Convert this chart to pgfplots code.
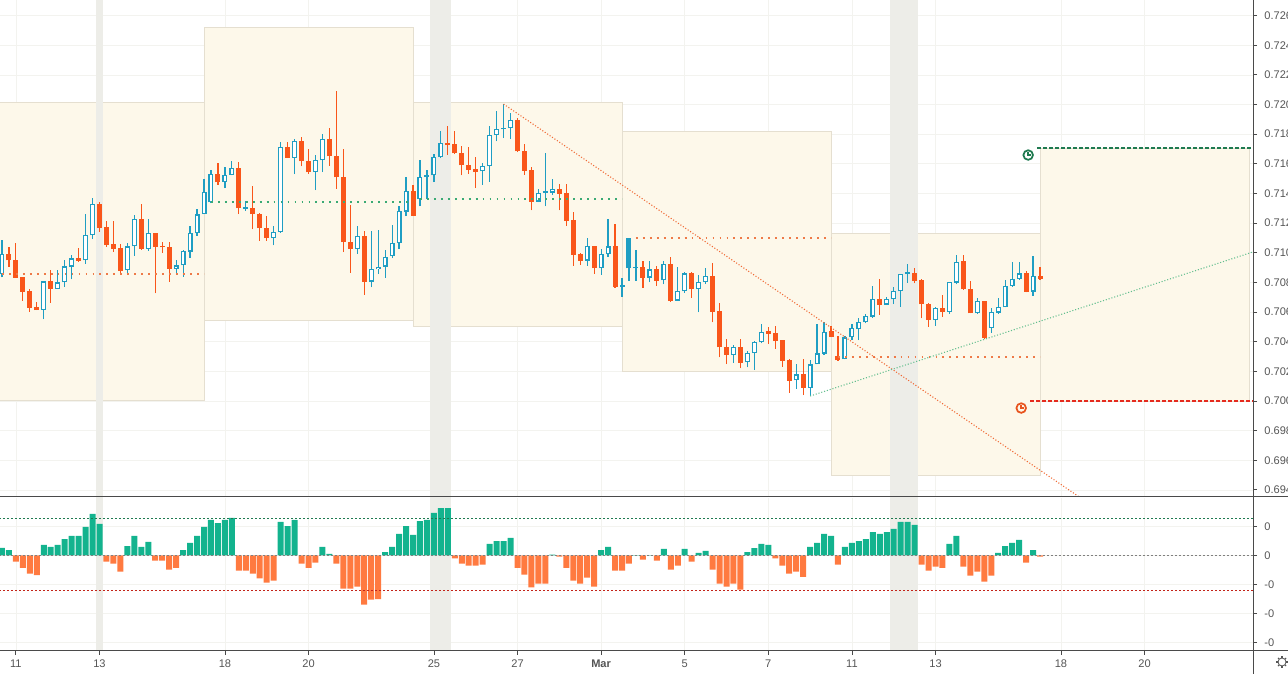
\documentclass[border=0pt]{standalone}
\usepackage{pgfplots}
\pgfplotsset{compat=1.18}
\usepackage{pgfplotstable}
\usetikzlibrary{calc}
\usepackage{fontspec}
\setmainfont{Liberation Sans}
\definecolor{candleT}{HTML}{1F9EC3}
\definecolor{candleO}{HTML}{F9561A}
\definecolor{histT}{HTML}{13B38E}
\definecolor{histO}{HTML}{FF7A40}
\definecolor{boxF}{HTML}{FDF8EA}
\definecolor{boxD}{HTML}{E5DFD0}
\definecolor{bandG}{HTML}{EDEDE8}
\definecolor{dotO}{HTML}{EE7A48}
\definecolor{dotG}{HTML}{3AAA74}
\definecolor{trendO}{HTML}{F06A35}
\definecolor{trendG}{HTML}{62BE8E}
\definecolor{dashG}{HTML}{1F7A50}
\definecolor{dashR}{HTML}{E52A1E}
\definecolor{iconO}{HTML}{E8541E}
\definecolor{axisC}{HTML}{4A4A4A}
\definecolor{lblC}{HTML}{555555}
\definecolor{gridC}{HTML}{F3F3EF}
\pgfdeclareplotmark{clock}{%
  \pgfpathcircle{\pgfpointorigin}{3.6pt}\pgfusepathqstroke
  \pgfpathmoveto{\pgfpoint{0pt}{2.2pt}}\pgfpathlineto{\pgfpointorigin}%
  \pgfpathlineto{\pgfpoint{1.8pt}{0pt}}\pgfusepathqstroke}

% hollow (rising) candles: j open high low close
\pgfplotstableread{
j o h l c
1 0.70854 0.71086 0.70834 0.70991
7 0.70615 0.70807 0.70550 0.70807
9 0.70757 0.70883 0.70757 0.70800
10 0.70800 0.70951 0.70771 0.70908
11 0.70906 0.70985 0.70820 0.70962
13 0.70949 0.71262 0.70926 0.71118
14 0.71118 0.71372 0.71091 0.71327
19 0.70881 0.71066 0.70861 0.71043
20 0.71043 0.71255 0.70980 0.71226
22 0.71027 0.71228 0.71014 0.71131
26 0.70892 0.70949 0.70850 0.70915
27 0.70915 0.71021 0.70838 0.71012
28 0.71007 0.71181 0.70967 0.71131
29 0.71131 0.71295 0.71115 0.71259
30 0.71260 0.71497 0.71260 0.71409
31 0.71339 0.71560 0.71335 0.71530
33 0.71476 0.71578 0.71436 0.71524
34 0.71526 0.71618 0.71521 0.71571
36 0.71294 0.71346 0.71283 0.71301
40 0.71098 0.71179 0.71049 0.71139
41 0.71139 0.71747 0.71134 0.71713
43 0.71641 0.71769 0.71530 0.71753
46 0.71544 0.71659 0.71422 0.71625
47 0.71623 0.71801 0.71544 0.71767
52 0.71024 0.71179 0.70994 0.71112
54 0.70805 0.71148 0.70767 0.70889
55 0.70889 0.71154 0.70855 0.70907
56 0.70907 0.71019 0.70832 0.70974
57 0.70976 0.71188 0.70963 0.71064
58 0.71064 0.71314 0.71024 0.71283
59 0.71278 0.71510 0.71247 0.71416
61 0.71361 0.71625 0.71312 0.71510
62 0.71510 0.71559 0.71361 0.71526
63 0.71521 0.71665 0.71476 0.71645
64 0.71645 0.71823 0.71638 0.71739
70 0.71548 0.71604 0.71458 0.71586
71 0.71584 0.71852 0.71480 0.71794
72 0.71794 0.71958 0.71751 0.71836
73 0.71832 0.72003 0.71773 0.71841
74 0.71841 0.71942 0.71766 0.71897
78 0.71345 0.71429 0.71341 0.71406
79 0.71406 0.71672 0.71312 0.71411
80 0.71406 0.71499 0.71390 0.71429
85 0.70947 0.71098 0.70913 0.71044
87 0.70895 0.71026 0.70850 0.70990
88 0.70990 0.71226 0.70974 0.71042
90 0.70769 0.70828 0.70704 0.70780
92 0.70895 0.71019 0.70810 0.70902
94 0.70832 0.70945 0.70801 0.70888
96 0.70814 0.70945 0.70787 0.70922
98 0.70677 0.70906 0.70677 0.70740
99 0.70740 0.70873 0.70731 0.70861
101 0.70753 0.70850 0.70598 0.70801
102 0.70801 0.70895 0.70789 0.70843
106 0.70312 0.70377 0.70258 0.70364
108 0.70260 0.70339 0.70226 0.70326
109 0.70323 0.70404 0.70211 0.70398
110 0.70395 0.70521 0.70389 0.70467
115 0.70139 0.70247 0.70082 0.70179
117 0.70089 0.70276 0.70033 0.70247
118 0.70247 0.70517 0.70247 0.70321
119 0.70319 0.70530 0.70310 0.70467
122 0.70280 0.70438 0.70280 0.70429
123 0.70429 0.70519 0.70411 0.70490
124 0.70485 0.70557 0.70411 0.70535
125 0.70530 0.70587 0.70524 0.70573
126 0.70569 0.70776 0.70562 0.70686
128 0.70650 0.70704 0.70647 0.70686
129 0.70686 0.70771 0.70654 0.70742
130 0.70740 0.70857 0.70636 0.70857
131 0.70855 0.70924 0.70798 0.70861
135 0.70548 0.70636 0.70506 0.70625
137 0.70600 0.70805 0.70587 0.70801
138 0.70798 0.70985 0.70787 0.70940
141 0.70591 0.70692 0.70587 0.70674
143 0.70494 0.70625 0.70461 0.70598
144 0.70596 0.70692 0.70587 0.70632
145 0.70632 0.70816 0.70632 0.70776
146 0.70776 0.70936 0.70771 0.70823
147 0.70823 0.70936 0.70816 0.70861
149 0.70738 0.70981 0.70710 0.70843
}\upT

% filled (falling) candles
\pgfplotstableread{
j o h l c
2 0.70991 0.71041 0.70906 0.70949
3 0.70951 0.71068 0.70832 0.70832
4 0.70834 0.70834 0.70676 0.70737
5 0.70742 0.70753 0.70602 0.70629
6 0.70631 0.70670 0.70613 0.70613
8 0.70809 0.70883 0.70663 0.70757
12 0.70962 0.71030 0.70940 0.70946
15 0.71329 0.71343 0.71142 0.71170
16 0.71174 0.71214 0.71041 0.71052
17 0.71059 0.71214 0.71007 0.71025
18 0.71034 0.71059 0.70861 0.70877
21 0.71228 0.71329 0.71021 0.71027
23 0.71131 0.71131 0.70726 0.71041
24 0.71048 0.71075 0.71000 0.71036
25 0.71039 0.71070 0.70805 0.70892
32 0.71533 0.71605 0.71458 0.71474
35 0.71571 0.71612 0.71260 0.71301
37 0.71301 0.71452 0.71157 0.71260
38 0.71262 0.71271 0.71082 0.71166
39 0.71166 0.71249 0.71080 0.71098
42 0.71713 0.71747 0.71639 0.71639
44 0.71756 0.71780 0.71582 0.71616
45 0.71618 0.71702 0.71533 0.71542
48 0.71769 0.71844 0.71587 0.71650
49 0.71654 0.72089 0.71432 0.71508
50 0.71512 0.71702 0.71004 0.71071
51 0.71071 0.71321 0.70866 0.71024
53 0.71114 0.71148 0.70715 0.70805
60 0.71417 0.71458 0.71251 0.71251
65 0.71739 0.71857 0.71661 0.71728
66 0.71735 0.71823 0.71665 0.71670
67 0.71674 0.71717 0.71521 0.71589
68 0.71593 0.71710 0.71532 0.71559
69 0.71566 0.71649 0.71435 0.71546
75 0.71897 0.71908 0.71679 0.71683
76 0.71688 0.71733 0.71526 0.71553
77 0.71559 0.71575 0.71285 0.71345
81 0.71429 0.71462 0.71285 0.71399
82 0.71402 0.71462 0.71183 0.71217
83 0.71219 0.71278 0.70913 0.70985
84 0.70992 0.70996 0.70917 0.70947
86 0.71046 0.71046 0.70859 0.70895
89 0.71046 0.71192 0.70764 0.70769
93 0.70902 0.70945 0.70765 0.70832
95 0.70891 0.70909 0.70778 0.70812
97 0.70925 0.70974 0.70670 0.70675
100 0.70866 0.70873 0.70697 0.70753
103 0.70843 0.70929 0.70530 0.70602
104 0.70607 0.70659 0.70294 0.70362
105 0.70364 0.70418 0.70249 0.70312
107 0.70364 0.70418 0.70220 0.70258
111 0.70472 0.70501 0.70386 0.70454
112 0.70456 0.70506 0.70353 0.70404
113 0.70409 0.70413 0.70231 0.70271
114 0.70276 0.70283 0.70055 0.70136
116 0.70179 0.70283 0.70040 0.70089
120 0.70474 0.70506 0.70429 0.70433
121 0.70303 0.70438 0.70271 0.70276
127 0.70688 0.70821 0.70580 0.70650
132 0.70861 0.70895 0.70794 0.70812
133 0.70816 0.70821 0.70557 0.70652
134 0.70654 0.70663 0.70501 0.70548
136 0.70625 0.70715 0.70569 0.70602
139 0.70945 0.70985 0.70749 0.70753
140 0.70756 0.70809 0.70591 0.70591
142 0.70674 0.70674 0.70415 0.70427
148 0.70861 0.70877 0.70733 0.70738
150 0.70843 0.70906 0.70816 0.70821
}\dnT

% filled rising-colour candle
\pgfplotstableread{
j o h l c
91 0.71102 0.71102 0.70810 0.70895
}\ftT

% oscillator histogram (units of 0.001)
\pgfplotstableread{
j v
1 0.26
2 0.18
7 0.36
8 0.29
9 0.36
10 0.56
11 0.67
12 0.67
13 0.98
14 1.43
15 1.08
19 0.32
20 0.67
21 0.29
22 0.46
27 0.18
28 0.43
29 0.67
30 0.98
31 1.22
32 1.11
33 1.22
34 1.29
41 1.15
42 1.01
43 1.22
47 0.29
48 0.05
56 0.11
57 0.29
58 0.74
59 1.01
60 0.70
61 1.18
62 1.22
63 1.46
64 1.63
65 1.63
71 0.39
72 0.49
73 0.49
74 0.60
80 0.02
87 0.18
88 0.29
92 0.01
94 0.01
96 0.22
99 0.22
101 0.08
102 0.15
108 0.11
109 0.25
110 0.39
111 0.36
117 0.29
118 0.43
119 0.74
120 0.67
122 0.29
123 0.43
124 0.49
125 0.56
126 0.80
127 0.74
128 0.80
129 0.91
130 1.15
131 1.15
132 1.05
137 0.39
138 0.67
144 0.08
145 0.32
146 0.43
147 0.53
149 0.18
}\histP
\pgfplotstableread{
j v
3 -0.22
4 -0.43
5 -0.63
6 -0.68
16 -0.22
17 -0.29
18 -0.56
23 -0.18
24 -0.18
25 -0.49
26 -0.43
35 -0.53
36 -0.53
37 -0.63
38 -0.80
39 -0.94
40 -0.87
44 -0.29
45 -0.43
46 -0.25
49 -0.29
50 -1.15
51 -1.15
52 -1.08
53 -1.70
54 -1.53
55 -1.51
66 -0.11
67 -0.29
68 -0.36
69 -0.36
70 -0.32
75 -0.43
76 -0.67
77 -1.11
78 -0.98
79 -0.98
81 -0.05
82 -0.43
83 -0.87
84 -0.98
85 -0.77
86 -1.08
89 -0.53
90 -0.53
91 -0.29
93 -0.15
95 -0.18
97 -0.49
98 -0.36
100 -0.22
103 -0.49
104 -0.98
105 -1.08
106 -0.98
107 -1.18
112 -0.11
113 -0.36
114 -0.63
115 -0.56
116 -0.74
121 -0.32
133 -0.32
134 -0.53
135 -0.39
136 -0.43
139 -0.39
140 -0.70
141 -0.56
142 -0.91
143 -0.70
148 -0.25
150 -0.05
}\histN

\pgfplotsset{
  lbl/.style={font=\fontsize{8.3}{10}\selectfont, text=lblC},
  bar/.style 2 args={draw=none, mark=none, forget plot, error bars/.cd, y dir=plus, y explicit,
     error mark=none, error bar style={draw=#1, line width=#2, solid}},
}

\begin{document}
\begin{tikzpicture}
% ---------------- main price panel ----------------
\begin{axis}[
  at={(0pt,132.75pt)}, anchor=south west, scale only axis,
  width=939.75pt, height=372.75pt,
  xmin=0.718, xmax=180.57, ymin=0.69352, ymax=0.72705,
  axis line style={draw=none},
  ytick={0.694,0.696,0.698,0.700,0.702,0.704,0.706,0.708,0.710,0.712,0.714,0.716,0.718,0.720,0.722,0.724,0.726},
  ytick pos=right, yticklabel pos=right,
  tick align=outside, major tick length=3pt,
  ytick style={draw=axisC, line width=0.6pt},
  xtick={3,15,33,45,63,75,87,99,111,123,135,153,165},
  xticklabels={}, xtick style={draw=none},
  grid=major, major grid style={draw=gridC, line width=0.5pt},
  yticklabel style={lbl, xshift=2pt},
  /pgf/number format/fixed, /pgf/number format/fixed zerofill,
  /pgf/number format/precision=3, /pgf/number format/assume math mode=true,
]
% weekly range boxes
\addplot[fill=boxF, draw=boxD, line width=0.6pt] coordinates {(0,0.72012) (30,0.72012) (30,0.70005) (0,0.70005)} --cycle;
\addplot[fill=boxF, draw=boxD, line width=0.6pt] coordinates {(30,0.72519) (60,0.72519) (60,0.70546) (30,0.70546)} --cycle;
\addplot[fill=boxF, draw=boxD, line width=0.6pt] coordinates {(60,0.72012) (90,0.72012) (90,0.70505) (60,0.70505)} --cycle;
\addplot[fill=boxF, draw=boxD, line width=0.6pt] coordinates {(90,0.71816) (120,0.71816) (120,0.70201) (90,0.70201)} --cycle;
\addplot[fill=boxF, draw=boxD, line width=0.6pt] coordinates {(120,0.71127) (150,0.71127) (150,0.69499) (120,0.69499)} --cycle;
\addplot[fill=boxF, draw=boxD, line width=0.6pt] coordinates {(150,0.71706) (180.1,0.71706) (180.1,0.70000) (150,0.70000)} --cycle;
% session bands
\addplot[fill=bandG, draw=none] coordinates {(14.5,0.69) (15.5,0.69) (15.5,0.73) (14.5,0.73)} --cycle;
\addplot[fill=bandG, draw=none] coordinates {(62.4,0.69) (65.5,0.69) (65.5,0.73) (62.4,0.73)} --cycle;
\addplot[fill=bandG, draw=none] coordinates {(128.5,0.69) (132.5,0.69) (132.5,0.73) (128.5,0.73)} --cycle;
% wicks
\addplot[bar={candleT}{0.9pt}] table[x=j, y=l, y error plus expr={\thisrow{h}-\thisrow{l}}] {\upT};
\addplot[bar={candleO}{0.9pt}] table[x=j, y=l, y error plus expr={\thisrow{h}-\thisrow{l}}] {\dnT};
\addplot[bar={candleT}{0.9pt}] table[x=j, y=l, y error plus expr={\thisrow{h}-\thisrow{l}}] {\ftT};
% bodies
\addplot[bar={candleO}{3.75pt}] table[x=j, y=c, y error plus expr={max(\thisrow{o}-\thisrow{c},0.00012)}] {\dnT};
\addplot[bar={candleT}{3.75pt}] table[x=j, y=c, y error plus expr={max(\thisrow{o}-\thisrow{c},0.00012)}] {\ftT};
\addplot[bar={candleT}{3.75pt}] table[x=j, y=o, y error plus expr={max(\thisrow{c}-\thisrow{o},0.00012)}] {\upT};
\addplot[bar={white}{1.95pt}] table[x=j, y expr={\thisrow{o}+0.00008}, y error plus expr={max(\thisrow{c}-\thisrow{o}-0.00016,0)}] {\upT};
% weekly reference levels
\addplot[dotO, line width=1.35pt, dash pattern=on 1.35pt off 3.875pt] coordinates {(1,0.70857) (30,0.70857)};
\addplot[dotG, line width=1.35pt, dash pattern=on 1.35pt off 3.875pt] coordinates {(31,0.71341) (60,0.71341)};
\addplot[dotG, line width=1.35pt, dash pattern=on 1.35pt off 3.875pt] coordinates {(61,0.71360) (90,0.71360)};
\addplot[dotO, line width=1.35pt, dash pattern=on 1.35pt off 3.875pt] coordinates {(92,0.71097) (120,0.71097)};
\addplot[dotO, line width=1.35pt, dash pattern=on 1.35pt off 3.875pt] coordinates {(121,0.70299) (150,0.70299)};
% trend lines
\addplot[trendO, line width=0.8pt, dash pattern=on 0.8pt off 1.4pt] coordinates {(73,0.72003) (160,0.69212)};
\addplot[trendG, line width=0.8pt, dash pattern=on 0.8pt off 1.4pt] coordinates {(117,0.70033) (185,0.71073)};
% projected levels
\addplot[dashG, line width=1.3pt, dash pattern=on 3pt off 1.5pt] coordinates {(149.6,0.71706) (180.57,0.71706)};
\addplot[dashR, line width=1.3pt, dash pattern=on 3pt off 1.5pt] coordinates {(148.6,0.70000) (180.57,0.70000)};
\addplot[only marks, mark=clock, mark options={draw=dashG, line width=1.3pt}] coordinates {(148.3,0.71659)};
\addplot[only marks, mark=clock, mark options={draw=iconO, line width=1.3pt}] coordinates {(147.3,0.69952)};
\end{axis}

% ---------------- oscillator panel ----------------
\begin{axis}[
  at={(0pt,17.25pt)}, anchor=south west, scale only axis,
  width=939.75pt, height=114.75pt,
  xmin=0.718, xmax=180.57, ymin=-3.30, ymax=1.976,
  axis line style={draw=none},
  ytick={-3,-2,-1,0,1}, yticklabels={-0,-0,-0,0,0},
  ytick pos=right, yticklabel pos=right,
  xtick={3,15,33,45,63,75,87,99,111,123,135,153,165},
  xticklabels={11,13,18,20,25,27,\textbf{Mar},5,7,11,13,18,20},
  xtick pos=bottom,
  tick align=outside, major tick length=3pt,
  tick style={draw=axisC, line width=0.6pt},
  grid=major, major grid style={draw=gridC, line width=0.5pt},
  yticklabel style={lbl, xshift=2pt},
  xticklabel style={lbl},
]
\addplot[fill=bandG, draw=none] coordinates {(14.5,-4) (15.5,-4) (15.5,3) (14.5,3)} --cycle;
\addplot[fill=bandG, draw=none] coordinates {(62.4,-4) (65.5,-4) (65.5,3) (62.4,3)} --cycle;
\addplot[fill=bandG, draw=none] coordinates {(128.5,-4) (132.5,-4) (132.5,3) (128.5,3)} --cycle;
\addplot[ybar, bar width=4.5pt, bar shift=0pt, fill=histT, draw=none] table[x=j, y=v] {\histP};
\addplot[ybar, bar width=4.5pt, bar shift=0pt, fill=histO, draw=none] table[x=j, y=v] {\histN};
\addplot[dashG, line width=0.75pt, dash pattern=on 1.5pt off 1.5pt] coordinates {(0,1.276) (181,1.276)};
\addplot[dashR!85!black, line width=0.75pt, dash pattern=on 1.5pt off 1.5pt] coordinates {(0,-1.23) (181,-1.23)};
\addplot[gray, line width=0.6pt, dash pattern=on 1.5pt off 1.5pt] coordinates {(0,0) (181,0)};
\end{axis}

% frame lines
\draw[axisC, line width=0.75pt] (0pt,132.75pt) -- (966pt,132.75pt);
\draw[axisC, line width=0.75pt] (0pt,17.25pt) -- (966pt,17.25pt);
\draw[axisC, line width=0.75pt] (939.75pt,0pt) -- (939.75pt,505.5pt);
% settings icon
\draw[lblC, line width=0.6pt] (961.5pt,9pt) circle (3pt);
\foreach \a in {0,45,...,315} \draw[lblC, line width=0.8pt] ($(961.5pt,9pt)+(\a:3pt)$) -- ($(961.5pt,9pt)+(\a:4.3pt)$);
\pgfresetboundingbox
\useasboundingbox (0pt,0pt) rectangle (966pt,505.5pt);
\end{tikzpicture}
\end{document}
